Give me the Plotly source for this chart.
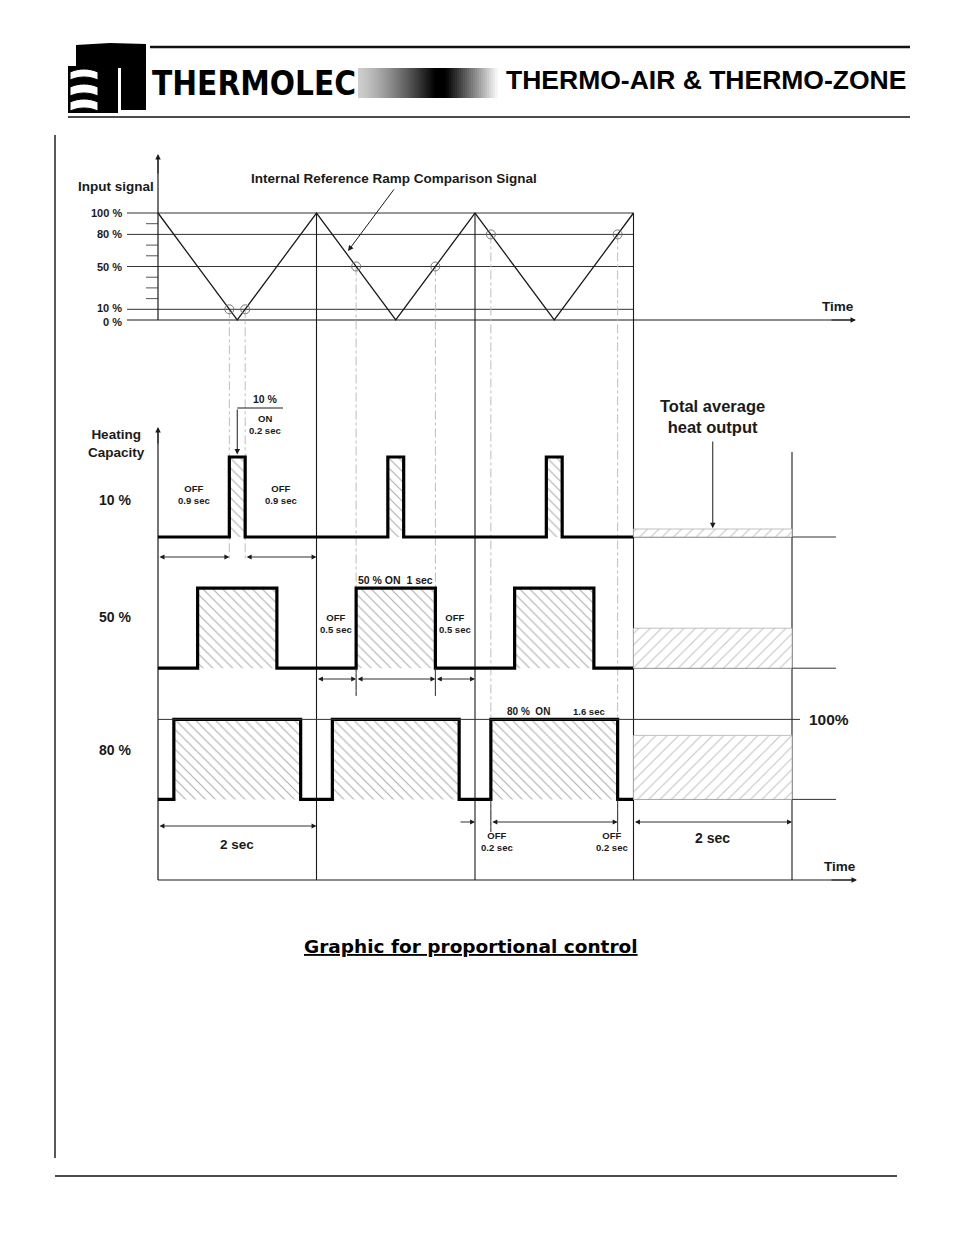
import plotly.graph_objects as go

# ---------------- data ----------------
period_s = 2.0
ramp_t = [0, 1, 2, 3, 4, 5, 6]
ramp_pct = [100, 0, 100, 0, 100, 0, 100]
grid_levels = [100, 80, 50, 10, 0]
grid_labels = ["100 %", "80 %", "50 %", "10 %", "0 %"]
minor_ticks = [90, 70, 60, 40, 30, 20]
crossing_t = [0.9, 1.1, 2.5, 3.5, 4.2, 5.8]
crossing_pct = [10, 10, 50, 50, 80, 80]
duty_pct = [10, 50, 80]
row_labels = ["10 %", "50 %", "80 %"]
n_cycles = 3
avg_window = [6, 8]

# ---------------- page geometry (layout only) ----------------
W, H = 954, 1235
T0_PX, PX_PER_S = 158.0, 79.25
Y0_PX, PX_PER_PCT = 320.0, 1.07
B0_PX, PX_PER_CAP = 537.0, 0.80
ROW_STEP = 164.0
TIME_AXIS_PX = 880.0


def t_px(px):
    return (px - T0_PX) / PX_PER_S


def y_px(py):
    return (Y0_PX - py) / PX_PER_PCT


def y2_px(py):
    return (B0_PX - py) / PX_PER_CAP


def row_base(i):
    return -i * ROW_STEP


def row_base_px(i):
    return B0_PX - row_base(i) * PX_PER_CAP


TIME_AXIS_Y2 = y2_px(TIME_AXIS_PX)
INK = "#1a1a1a"
THIN = "#333333"
FONT = "Liberation Sans, Arial, sans-serif"

fig = go.Figure()


def line(x, y, axis="y", color=THIN, width=1.0, dash=None):
    fig.add_trace(go.Scatter(x=x, y=y, yaxis=axis, mode="lines",
                             line=dict(color=color, width=width, dash=dash),
                             hoverinfo="skip", showlegend=False))


ann = []


def text(x, y, s, size=12, axis="y", xanchor="center", color=INK, bold=True):
    ann.append(dict(x=x, y=y, xref="x", yref=axis, text=("<b>" + s + "</b>") if bold else s,
                    showarrow=False, xanchor=xanchor, yanchor="middle",
                    font=dict(family=FONT, size=size, color=color)))


def arrow(x, y, ax, ay, axis="y", both=False, width=1.0, size=1.1, color=INK):
    ann.append(dict(x=x, y=y, ax=ax, ay=ay, xref="x", yref=axis, axref="x", ayref=axis,
                    text="", showarrow=True, arrowhead=2, arrowsize=size, arrowwidth=width,
                    arrowcolor=color, arrowside="end+start" if both else "end",
                    startarrowhead=2, startarrowsize=size, standoff=0, startstandoff=0))


# ---------------- top panel: input signal ----------------
x_left = t_px(127)
for lv in grid_levels:
    if lv == 0:
        line([x_left, t_px(852)], [lv, lv], width=1.2, color=INK)
    else:
        line([x_left, ramp_t[-1]], [lv, lv], width=1.0)
arrow(t_px(856), 0, t_px(830), 0)
for lv, lab in zip(grid_levels, grid_labels):
    text(t_px(124), lv + (1.5 if lv == 10 else (-1.5 if lv == 0 else 0)), lab, size=11,
         xanchor="right")
for mt in minor_ticks:
    line([t_px(146), 0], [mt, mt], width=1.0, color="#555")
# y axis with arrow
line([0, 0], [0, y_px(157)], width=1.2, color=INK)
arrow(0, y_px(154), 0, y_px(175))
text(t_px(116), y_px(186), "Input signal", size=13.5)
text(t_px(838), y_px(306), "Time", size=13.5)

# crossing guide lines (dash-dot, light)
cross_end_px = [row_base_px(0) + 23, row_base_px(0) + 23,
                row_base_px(1) + 27, row_base_px(1) + 27,
                row_base_px(2) + 32, row_base_px(2) + 32]
for tc, pc, ep in zip(crossing_t, crossing_pct, cross_end_px):
    line([tc, tc], [pc, y_px(ep)], color="#bdbdbd", width=1.0, dash="dashdot")

# ramp signal
line(ramp_t, ramp_pct, color=INK, width=1.3)
fig.add_trace(go.Scatter(x=crossing_t, y=crossing_pct, mode="markers",
                         marker=dict(symbol="circle-open", size=9, color="#777", line=dict(width=1)),
                         hoverinfo="skip", showlegend=False))
text(t_px(394), y_px(178), "Internal Reference Ramp Comparison Signal", size=13.5)
arrow(t_px(348), y_px(251), t_px(395), y_px(188))

# period separators
for k in range(1, n_cycles + 1):
    line([k * period_s, k * period_s], [100, y_px(TIME_AXIS_PX)], width=1.1, color=INK)
line([avg_window[1]] * 2, [y2_px(452), TIME_AXIS_Y2], axis="y2", width=1.1, color=INK)

# ---------------- heating capacity panel ----------------
line([0, 0], [TIME_AXIS_Y2, y2_px(430)], axis="y2", width=1.2, color=INK)
arrow(0, y2_px(427), 0, y2_px(445), axis="y2")
text(t_px(116), y2_px(443), "Heating<br>Capacity", size=13.5, axis="y2")
line([0, t_px(852)], [TIME_AXIS_Y2] * 2, axis="y2", width=1.2, color=INK)
arrow(t_px(857), TIME_AXIS_Y2, t_px(830), TIME_AXIS_Y2, axis="y2")
text(t_px(840), y2_px(866), "Time", size=13.5, axis="y2")

row_label_px = [500, 617, 750]
t_end = n_cycles * period_s
for i, d in enumerate(duty_pct):
    b = row_base(i)
    on = d / 100.0 * period_s
    sx, sy = [0], [b]
    for k in range(n_cycles):
        c = k * period_s + period_s / 2
        s, e = c - on / 2, c + on / 2
        fig.add_trace(go.Scatter(x=[s, e, e, s, s], y=[b, b, b + 100, b + 100, b], yaxis="y2",
                                 mode="lines", fill="toself", line=dict(width=0),
                                 fillcolor="white",
                                 fillpattern=dict(shape="\\", fgcolor="#5e5e5e", bgcolor="white",
                                                  size=7, solidity=0.16),
                                 hoverinfo="skip", showlegend=False))
        sx += [s, s, e, e]
        sy += [b, b + 100, b + 100, b]
    sx.append(t_end)
    sy.append(b)
    line(sx, sy, axis="y2", color="#000", width=3.2)
    # thin baseline continuation
    line([t_end, t_px(836)], [b, b], axis="y2", width=1.0)
    # average heat output
    a0, a1 = avg_window
    fig.add_trace(go.Scatter(x=[a0, a1, a1, a0, a0], y=[b, b, b + d, b + d, b], yaxis="y2",
                             mode="lines", fill="toself", line=dict(width=0.8, color="#b0b0b0"),
                             fillcolor="white",
                             fillpattern=dict(shape="/", fgcolor="#858585", bgcolor="white",
                                              size=8, solidity=0.13),
                             hoverinfo="skip", showlegend=False))
    text(t_px(115), y2_px(row_label_px[i]), row_labels[i], size=14, axis="y2")

# 100 % reference line on last row
b2 = row_base(2)
line([0, t_px(800)], [b2 + 100, b2 + 100], axis="y2", width=1.0)
text(t_px(829), b2 + 100, "100%", size=15.5, axis="y2")

# --- 10 % row annotations
b0 = row_base(0)
on0 = duty_pct[0] / 100 * period_s
s0, e0 = 1 - on0 / 2, 1 + on0 / 2
dim0 = y2_px(557)
arrow(s0, dim0, 0, dim0, axis="y2", both=True, width=0.9)
arrow(period_s, dim0, e0, dim0, axis="y2", both=True, width=0.9)
off_lbl = f"OFF<br>{period_s / 2 - on0 / 2:.1f} sec"
text(s0 / 2, y2_px(494), off_lbl, size=9.5, axis="y2")
text((e0 + period_s) / 2, y2_px(494), off_lbl, size=9.5, axis="y2")
text(t_px(265), y2_px(399), f"{duty_pct[0]} %", size=10.5, axis="y2")
text(t_px(265), y2_px(418), "ON", size=9.5, axis="y2")
text(t_px(265), y2_px(430), f"{on0:.1f} sec", size=9.5, axis="y2")
line([1, t_px(283)], [y2_px(408)] * 2, axis="y2", width=1.0, color=INK)
arrow(1, b0 + 103, 1, y2_px(408), axis="y2")

# --- 50 % row annotations
b1 = row_base(1)
on1 = duty_pct[1] / 100 * period_s
s1, e1 = 3 - on1 / 2, 3 + on1 / 2
dim1 = y2_px(679)
arrow(s1, dim1, 2, dim1, axis="y2", both=True, width=0.9)
arrow(e1, dim1, s1, dim1, axis="y2", both=True, width=0.9)
arrow(4, dim1, e1, dim1, axis="y2", both=True, width=0.9)
for tt in (s1, e1):
    line([tt, tt], [b1, y2_px(696)], axis="y2", width=1.0)
off1 = f"OFF<br>{period_s / 2 - on1 / 2:.1f} sec"
text((2 + s1) / 2, y2_px(623), off1, size=9.5, axis="y2")
text((e1 + 4) / 2, y2_px(623), off1, size=9.5, axis="y2")
text(3, y2_px(580), f"{duty_pct[1]} % ON&nbsp;&nbsp;{on1:g} sec", size=10.5, axis="y2")

# --- 80 % row annotations
on2 = duty_pct[2] / 100 * period_s
s2, e2 = 5 - on2 / 2, 5 + on2 / 2
dim2 = y2_px(822)
arrow(4, dim2, t_px(459), dim2, axis="y2", width=0.9)
arrow(e2, dim2, s2, dim2, axis="y2", both=True, width=0.9)
for tt in (s2, e2):
    line([tt, tt], [b2, y2_px(832)], axis="y2", width=1.0)
off2 = f"OFF<br>{period_s / 2 - on2 / 2:.1f} sec"
text(t_px(497), y2_px(841), off2, size=9.5, axis="y2")
text(t_px(612), y2_px(841), off2, size=9.5, axis="y2")
text(t_px(528), y2_px(711), f"{duty_pct[2]} %&nbsp;&nbsp;ON", size=10, axis="y2")
text(t_px(589), y2_px(711), f"{on2:.1f} sec", size=9.5, axis="y2")

# 2 sec dimensions
dA = y2_px(826)
arrow(period_s, dA, 0, dA, axis="y2", both=True, width=0.9)
text(period_s / 2, y2_px(844), f"{period_s:g} sec", size=13.5, axis="y2")
arrow(avg_window[1], dim2, avg_window[0], dim2, axis="y2", both=True, width=0.9)
text(sum(avg_window) / 2, y2_px(838), f"{avg_window[1] - avg_window[0]:g} sec", size=14, axis="y2")

# total average heat output
text(sum(avg_window) / 2, y2_px(416), "Total average<br>heat output", size=16.5, axis="y2")
arrow(sum(avg_window) / 2, b0 + duty_pct[0] + 1, sum(avg_window) / 2, y2_px(440), axis="y2")

# ---------------- page decoration (paper coords) ----------------
shapes = []


def px2p(x, y):
    return x / W, 1 - y / H


def pline(x0, y0, x1, y1, w=1.2, c="#111"):
    a, b_ = px2p(x0, y0)
    c2, d2 = px2p(x1, y1)
    shapes.append(dict(type="line", xref="paper", yref="paper", x0=a, y0=b_, x1=c2, y1=d2,
                       line=dict(color=c, width=w)))


def ppath(pts, fill="#000", lc="#000", lw=0):
    s = ""
    for j, (x, y) in enumerate(pts):
        a, b_ = px2p(x, y)
        s += ("M" if j == 0 else "L") + "%.5f,%.5f " % (a, b_)
    shapes.append(dict(type="path", xref="paper", yref="paper", path=s + "Z",
                       fillcolor=fill, line=dict(color=lc, width=lw)))


pline(150, 47, 910, 47, w=2.4)
pline(68, 117, 910, 117, w=1.4)
pline(55, 135, 55, 1158, w=1.4)
pline(55, 1176, 897, 1176, w=1.4)

# logo mark
ppath([(76, 45), (110, 43), (146, 44), (146, 110), (121, 110), (121, 68), (118, 68),
       (118, 113), (100, 113), (100, 66), (76, 66)])
ppath([(68, 66), (100, 66), (100, 113), (68, 113)])
for (ya, yb) in [(69, 79), (84, 95), (99, 110)]:
    pts = []
    for j in range(9):
        x = 70 + j * 3.5
        pts.append((x, ya + 3 - 3 * (1 - ((j - 4) / 4.0) ** 2)))
    for j in range(8, -1, -1):
        x = 70 + j * 3.5
        pts.append((x, yb + 1 - 3 * (1 - ((j - 4) / 4.0) ** 2)))
    ppath(pts, fill="white", lc="#000", lw=1)

# gradient bar
n = 70
gx0, gx1 = 358, 497
for j in range(n):
    xa = gx0 + (gx1 - gx0) * j / n
    xb = gx0 + (gx1 - gx0) * (j + 1) / n + 0.6
    f = (xa - gx0) / (gx1 - gx0)
    if f < 0.55:
        g = 205 * (1 - (f / 0.55) ** 1.3)
    elif f < 0.62:
        g = 0
    else:
        g = 255 * ((f - 0.62) / 0.38) ** 1.1
    g = int(max(0, min(255, g)))
    a, b_ = px2p(xa, 68)
    c2, d2 = px2p(xb, 98)
    shapes.append(dict(type="rect", xref="paper", yref="paper", x0=a, y0=d2, x1=c2, y1=b_,
                       fillcolor="rgb(%d,%d,%d)" % (g, g, g), line=dict(width=0)))

page_ann = [
    dict(x=150 / W, y=1 - 83 / H, xref="paper", yref="paper", xanchor="left", yanchor="middle",
         text="<b>THERMOLEC</b>", showarrow=False,
         font=dict(family="Liberation Sans Narrow, DejaVu Sans Condensed, Arial Narrow, sans-serif",
                   size=33, color="#000")),
    dict(x=908 / W, y=1 - 80 / H, xref="paper", yref="paper", xanchor="right", yanchor="middle",
         text="<b>THERMO-AIR &amp; THERMO-ZONE</b>", showarrow=False,
         font=dict(family="Liberation Sans, Arial, sans-serif", size=26.5, color="#000")),
    dict(x=471 / W, y=1 - 946 / H, xref="paper", yref="paper", xanchor="center", yanchor="middle",
         text="<b><u>Graphic for proportional control</u></b>", showarrow=False,
         font=dict(family="DejaVu Sans, Verdana, sans-serif", size=18.5, color="#000")),
]

fig.update_layout(
    width=W, height=H, margin=dict(l=0, r=0, t=0, b=0),
    paper_bgcolor="white", plot_bgcolor="white", showlegend=False,
    xaxis=dict(range=[t_px(0), t_px(W)], visible=False, fixedrange=True),
    yaxis=dict(range=[y_px(H), y_px(0)], visible=False, fixedrange=True),
    yaxis2=dict(range=[y2_px(H), y2_px(0)], visible=False, overlaying="y", fixedrange=True),
    annotations=ann + page_ann,
    shapes=shapes,
)

fig.write_html("out.html", config={"displayModeBar": False},
               post_script="document.body.style.margin='0px';document.body.style.overflow='hidden';")
